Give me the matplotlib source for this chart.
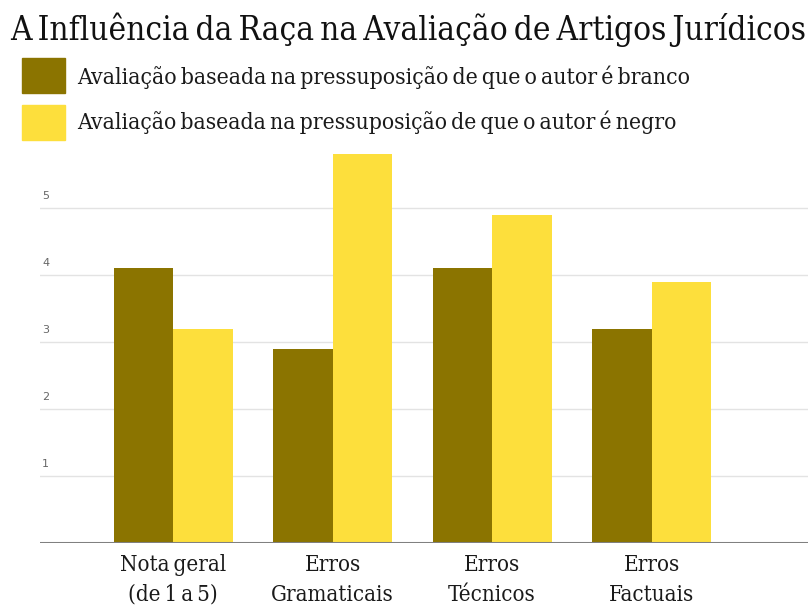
import matplotlib
matplotlib.use("Agg")
import matplotlib.pyplot as plt
from matplotlib.transforms import offset_copy
from matplotlib.font_manager import FontProperties
import numpy as np

categories = ["Nota geral\n(de 1 a 5)", "Erros\nGramaticais", "Erros\nTécnicos", "Erros\nFactuais"]
branco = [4.1, 2.9, 4.1, 3.2]
negro = [3.2, 5.8, 4.9, 3.9]
yticks = [1, 2, 3, 4, 5]
title = "A Influência da Raça na Avaliação de Artigos Jurídicos"
legend_labels = ["Avaliação baseada na pressuposição de que o autor é branco",
                 "Avaliação baseada na pressuposição de que o autor é negro"]
c_branco = "#8B7400"
c_negro = "#FDDF3C"

W, H = 811, 609
fig = plt.figure(figsize=(W/100, H/100), dpi=100)
TS = "\u2009"  # thin space to mimic the tight word spacing

def fp(size):
    return FontProperties(family="DejaVu Serif", stretch="condensed", size=size)

ax = fig.add_axes([40/W, (H-543)/H, (808-40)/W, (543-141)/H])
x = np.arange(len(categories))
w = 0.373
ax.bar(x - w/2, branco, w, color=c_branco, zorder=3)
ax.bar(x + w/2, negro, w, color=c_negro, zorder=3)
ax.set_xlim(-0.834, 3.98)
ax.set_ylim(0, 6)
tr = offset_copy(ax.get_yaxis_transform(), fig=fig, x=0, y=5, units="points")
for t in yticks:
    ax.axhline(t, color="#e3e3e3", lw=1, zorder=1)
    ax.text(0.003, t, str(t), transform=tr, ha="left", va="bottom",
            fontsize=8, color="#666666", family="DejaVu Sans")
ax.axhline(0, color="#808080", lw=2.2, zorder=4)
for s in ax.spines.values():
    s.set_visible(False)
ax.set_yticks([])
ax.set_xticks(x)
ax.set_xticklabels([c.replace(" ", TS) for c in categories], fontproperties=fp(16),
                   linespacing=1.45, color="#1a1a1a")
ax.tick_params(axis="x", length=0, pad=8)

def fit_text(xp, yp, s, target_w, size, **kw):
    t = fig.text(xp/W, 1-yp/H, s.replace(" ", TS), fontproperties=fp(size),
                 va="baseline", ha="left", **kw)
    fig.canvas.draw()
    bb = t.get_window_extent()
    t.set_fontsize(size * target_w / bb.width)
    return t

fit_text(10, 40, title, 793, 20, color="#111111")
fit_text(77, 84, legend_labels[0], 610, 13, color="#1a1a1a")
fit_text(77, 129, legend_labels[1], 596, 13, color="#1a1a1a")
for i, col in enumerate([c_branco, c_negro]):
    y0 = [58, 105][i]
    fig.patches.append(plt.Rectangle((22/W, 1-(y0+35)/H), 43/W, 35/H, transform=fig.transFigure,
                                     color=col, figure=fig))

fig.savefig("out.png", dpi=100)
